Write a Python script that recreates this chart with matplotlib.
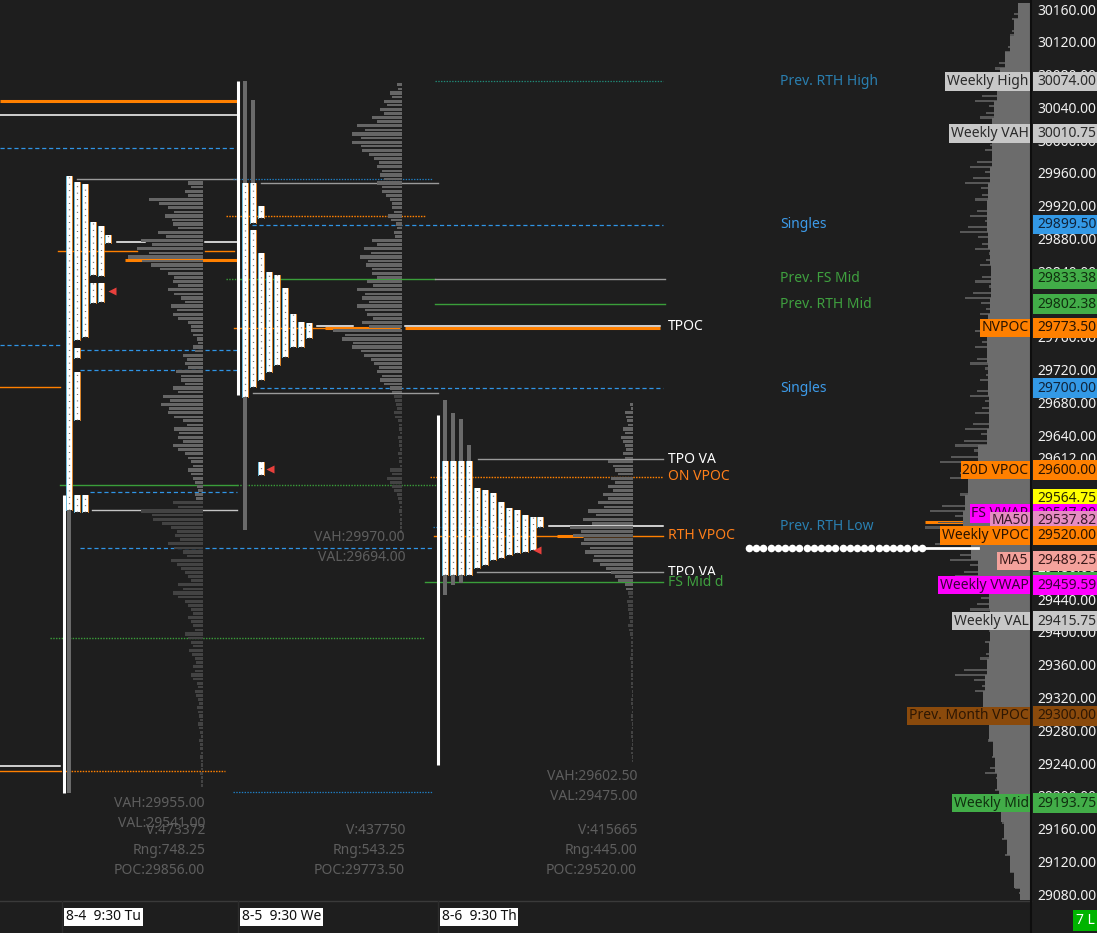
import numpy as np
import matplotlib.pyplot as plt
from matplotlib.patches import Rectangle

plt.rcParams['font.family'] = ['Noto Sans', 'DejaVu Sans']
plt.rcParams['lines.scale_dashes'] = False

BG = '#1e1e1e'

# price scale of the chart (top / bottom of the plotting area)
P_HIGH = 30173.42
P_LOW = 29075.45
PX_PER_PT = 0.8197

price_ticks = list(range(29080, 30161, 40))

# ---------------- session data ----------------
session_labels = ['8-4  9:30 Tu', '8-5  9:30 We', '8-6  9:30 Th']
sess_vah = [29955.00, 29970.00, 29602.50]
sess_val = [29541.00, 29694.00, 29475.00]
sess_vol = [473372, 437750, 415665]
sess_rng = [748.25, 543.25, 445.00]
sess_poc = [29856.00, 29773.50, 29520.00]

# session range bars (high, low)
range_hi = [29569.50, 30074.50, 29667.00]
range_lo = [29206.00, 29691.50, 29240.25]

# TPO columns: (top, bottom) segments per column
tpo_day1 = [
    [(29958.75, 29551.25)],
    [(29951.50, 29758.50), (29748.75, 29736.50), (29719.50, 29661.00), (29569.50, 29548.75)],
    [(29949.00, 29762.25), (29569.50, 29548.75)],
    [(29902.50, 29838.00), (29828.25, 29803.75)],
    [(29897.75, 29836.75), (29828.25, 29805.00)],
    [(29886.75, 29877.00)],
]
tpo_day2 = [
    [(29950.00, 29689.00)],
    [(29950.00, 29901.50), (29892.75, 29701.25)],
    [(29922.00, 29907.50), (29864.75, 29709.75), (29609.75, 29594.00)],
    [(29841.50, 29719.50)],
    [(29838.00, 29728.00)],
    [(29822.00, 29738.00)],
    [(29790.25, 29750.00)],
    [(29780.50, 29750.00)],
    [(29779.50, 29761.00)],
]
tpo_day3 = [
    [(29611.00, 29472.00)],
    [(29611.00, 29472.00)],
    [(29611.00, 29472.00)],
    [(29611.00, 29472.00)],
    [(29578.00, 29480.50)],
    [(29575.50, 29484.00)],
    [(29572.00, 29490.25)],
    [(29561.00, 29492.50)],
    [(29553.75, 29496.25)],
    [(29551.25, 29498.75)],
    [(29545.00, 29500.00)],
    [(29542.75, 29502.50)],
    [(29542.75, 29530.50)],
]
# greyed-out TPO parts (column index, top, bottom)
tpo_grey_day1 = [(0, 29551.25, 29206.00)]
tpo_grey_day2 = [(0, 30074.50, 29950.00), (1, 30051.50, 29950.00), (0, 29689.00, 29526.75)]
tpo_grey_day3 = [(0, 29685.50, 29611.00), (1, 29669.50, 29611.00), (2, 29662.25, 29611.00),
                 (3, 29630.50, 29611.00), (0, 29472.00, 29447.50), (1, 29472.00, 29459.75),
                 (2, 29472.00, 29462.00)]
single_print = [29818.40, 29601.20, 29502.40]

# session volume profiles (10 pt rows, widths in chart units)
vp1_prices = np.arange(29950, 29215, -10)
vp1_width = [15, 18, 54, 35, 38, 30, 45, 62, 66, 75, 52, 35, 30, 35, 22, 32, 30, 15, 12, 6,
             10, 20, 18, 27, 22, 30, 40, 42, 35, 20, 29, 25, 30, 18, 12, 15, 10, 6, 8,
             30, 62, 50, 32, 28, 35, 20, 32, 22, 15, 25, 30, 18, 12, 15, 10, 18, 12, 14, 8,
             10, 12, 6, 8, 5, 6, 4, 5, 3, 4, 3, 3, 2, 3, 2]
vp1_split = 29565
vp2_prices = np.arange(30070, 29525, -10)
vp2_width = [5, 12, 18, 22, 30, 45, 50, 50, 40, 28, 25, 22, 25, 20, 12, 10, 14, 6, 8, 30,
             38, 42, 36, 30, 35, 45, 40, 45, 35, 40, 69, 60, 50, 38, 28, 25, 22, 12,
             8, 6, 8, 4, 3, 4, 3, 4, 3, 12, 15, 10, 5, 3, 3, 2, 2]
vp2_split = 29695
vp3_prices = np.arange(29680, 29245, -10)
vp3_width = [3, 8, 6, 10, 12, 8, 10, 25, 18, 22, 25, 30, 35, 45, 50, 63, 60, 52, 48, 40,
             27, 18, 8, 5, 6, 5, 4, 5, 3, 2, 2, 3, 2, 2, 2, 1, 2, 1, 2, 1, 2, 1, 2, 1]
vp3_split = 29455

# composite profile at the right
comp_prices = np.arange(30160, 29075, -20)
comp_core = [12, 16, 20, 25, 30, 33, 36, 38, 38, 38, 40, 42, 43, 43, 42, 40, 39, 39, 40, 42,
             43, 43, 42, 42, 41, 41, 43, 52, 57, 62, 65, 67, 65, 59, 52, 42, 41, 40, 40, 41,
             43, 45, 47, 45, 41, 37, 35, 33, 31, 29, 26, 23, 20, 16, 10]
spike_prices = np.arange(30150, 29085, -20)
spike_width = [18, 20, 25, 35, 45, 55, 50, 45, 45, 60, 65, 55, 60, 70, 55, 50, 55, 65, 50, 55,
               55, 60, 50, 60, 55, 65, 75, 90, 80, 70, 100, 105, 95, 80, 75, 65, 60, 55, 45, 50,
               75, 55, 50, 40, 42, 38, 45, 35, 30, 28, 28, 25, 20, 15]

# price levels (price, badge colour, badge text colour, side tag)
levels = [
    (30074.00, '#c8c8c8', '#2a2a2a', 'Weekly High'),
    (30010.75, '#c8c8c8', '#2a2a2a', 'Weekly VAH'),
    (29899.50, '#3399e6', '#10243a', None),
    (29833.38, '#42ad48', '#10300f', None),
    (29802.38, '#42ad48', '#10300f', None),
    (29773.50, '#ff8000', '#2a1400', 'NVPOC'),
    (29700.00, '#3399e6', '#10243a', None),
    (29600.00, '#ff8000', '#2a1400', '20D VPOC'),
    (29564.75, '#ffff00', '#2a2a00', None),
    (29547.00, '#ff00ff', '#3a003a', 'FS VWAP'),
    (29537.82, '#e68cc2', '#3a1a2a', 'MA50'),
    (29520.00, '#ff8000', '#2a1400', 'Weekly VPOC'),
    (29489.25, '#f4a29c', '#3a1a1a', 'MA5'),
    (29463.00, '#42ad48', '#10300f', None),
    (29459.59, '#ff00ff', '#3a003a', 'Weekly VWAP'),
    (29415.75, '#c8c8c8', '#2a2a2a', 'Weekly VAL'),
    (29300.00, '#8a4a0c', '#2e1703', 'Prev. Month VPOC'),
    (29193.75, '#42ad48', '#10300f', 'Weekly Mid'),
]

# ---------------- layout ----------------
tpo_x = [[69, 77, 85, 93, 101, 108],
         [245, 253, 261, 269, 277, 285, 293, 301, 309],
         [445, 453, 461, 469, 477, 485, 493, 501, 509, 517, 525, 533, 540]]
range_x = [64, 238, 438]
tri_x = [112, 270, 537]
vp_edge = [203, 402, 633]
comp_edge = 1030

STY = {
    'or_thick': dict(color='#ff8000', lw=2.2, solid_capstyle='butt'),
    'or': dict(color='#ff8000', lw=1.0),
    'or_dot': dict(color='#ff8000', lw=1.0, dashes=(1.1, 0.9)),
    'white': dict(color='#ffffff', lw=1.1),
    'grey': dict(color='#9a9a9a', lw=1.0),
    'ltgrey': dict(color='#c4c4c4', lw=1.0),
    'bl_dash': dict(color='#2f95e6', lw=0.9, dashes=(3.0, 2.0)),
    'bl_dot': dict(color='#1f80c6', lw=0.9, dashes=(1.0, 1.0)),
    'green': dict(color='#3a9e3a', lw=1.0),
    'gr_dot': dict(color='#3a9e3a', lw=1.0, dashes=(1.0, 1.0)),
    'teal_dot': dict(color='#208a78', lw=0.9, dashes=(1.0, 1.0)),
}

segments = [
    (30050.25, 0, 237, 'or_thick'), (30033.00, 0, 237, 'white'),
    (29993.00, 0, 235, 'bl_dash'), (30074.50, 435, 663, 'teal_dot'),
    (29955.00, 77, 237, 'grey'), (29955.50, 233, 433, 'bl_dot'),
    (29950.00, 261, 438, 'grey'), (29910.00, 226, 425, 'or_dot'),
    (29899.50, 252, 663, 'bl_dash'),
    (29878.00, 117, 145, 'white'), (29878.00, 205, 237, 'white'),
    (29867.00, 58, 137, 'or'), (29867.00, 205, 234, 'or'),
    (29856.00, 125, 237, 'or_thick'),
    (29833.38, 226, 240, 'gr_dot'), (29833.38, 240, 435, 'green'), (29833.38, 435, 665, 'grey'),
    (29802.38, 435, 665, 'green'),
    (29775.50, 317, 353, 'white'), (29773.50, 234, 370, 'or'), (29773.50, 325, 400, 'or_thick'),
    (29776.00, 405, 660, 'white'), (29773.00, 405, 660, 'or_thick'),
    (29752.50, 0, 60, 'bl_dash'), (29746.40, 80, 237, 'bl_dash'), (29722.00, 80, 237, 'bl_dash'),
    (29701.30, 0, 60, 'or'), (29700.00, 260, 663, 'bl_dash'), (29694.00, 253, 438, 'grey'),
    (29613.00, 478, 663, 'grey'), (29591.50, 430, 663, 'or_dot'),
    (29582.00, 60, 237, 'green'), (29582.00, 237, 440, 'gr_dot'),
    (29573.00, 90, 237, 'bl_dash'), (29551.20, 92, 237, 'ltgrey'),
    (29530.50, 433, 540, 'bl_dot'), (29531.50, 549, 663, 'white'),
    (29520.00, 434, 663, 'or'), (29520.00, 557, 583, 'or_thick'),
    (29505.00, 80, 433, 'bl_dash'), (29475.00, 477, 663, 'grey'),
    (29463.00, 425, 663, 'green'), (29395.00, 50, 425, 'gr_dot'),
    (29239.00, 0, 60, 'white'), (29233.00, 0, 60, 'or'), (29233.00, 60, 225, 'or_dot'),
    (29207.00, 233, 433, 'bl_dot'), (29537.00, 925, 965, 'or_thick'),
]


def px(y):
    return P_HIGH - y / PX_PER_PT


fig = plt.figure(figsize=(10.97, 9.33), dpi=100, facecolor=BG)
ax = fig.add_axes([0, 33 / 933, 1, 900 / 933])
ax.set_xlim(0, 1097)
ax.set_ylim(P_LOW, P_HIGH)
ax.axis('off')

# level lines
for p, x0, x1, kind in segments:
    ax.plot([x0, x1], [p, p], zorder=2, **STY[kind])

# session volume profiles
for prices, widths, split, edge in [(vp1_prices, vp1_width, vp1_split, vp_edge[0]),
                                    (vp2_prices, vp2_width, vp2_split, vp_edge[1]),
                                    (vp3_prices, vp3_width, vp3_split, vp_edge[2])]:
    widths = np.array(widths, dtype=float)
    cols = ['#666666' if p > split else '#434343' for p in prices]
    ax.barh(prices, widths, height=4.0, left=edge - widths, color=cols, zorder=3)
    ax.barh(prices - 5, widths * 0.82, height=3.0, left=edge - widths * 0.82, color=cols, zorder=3)

# TPO profiles
for d, cols in enumerate([tpo_day1, tpo_day2, tpo_day3]):
    xs = tpo_x[d]
    for i, segs in enumerate(cols):
        x = xs[i]
        for top, bot in segs:
            ax.add_patch(Rectangle((x - 2.5, bot), 5, top - bot, facecolor='white',
                                   edgecolor='none', zorder=4))
            ax.plot([x - 2.7] * 2, [bot, top], color='#7fdcff', lw=0.6, zorder=5)
            ax.plot([x + 2.7] * 2, [bot, top], color='#ff9a30', lw=0.6, zorder=5)
            ax.plot([x, x], [bot, top], color='#505050', lw=0.9, dashes=(0.6, 4.0), zorder=5)
for d, greys in enumerate([tpo_grey_day1, tpo_grey_day2, tpo_grey_day3]):
    for i, top, bot in greys:
        x = tpo_x[d][i]
        ax.add_patch(Rectangle((x - 2, bot), 4, top - bot, facecolor='#6a6a6a',
                               edgecolor='none', zorder=4))
    ax.plot([range_x[d]] * 2, [range_lo[d], range_hi[d]], color='white', lw=2.2,
            solid_capstyle='butt', zorder=5)
    ax.plot(tri_x[d], single_print[d], marker='<', ms=6, color='#e8403c', mec='none', zorder=6)

# session stats
stat_x = [205, 405, 637]
vah_y = [804, 538, 777]
for d in range(3):
    kw = dict(color='#5e5e5e', fontsize=10, ha='right', va='center', zorder=3)
    ax.text(stat_x[d], px(vah_y[d]), f'VAH:{sess_vah[d]:.2f}', **kw)
    ax.text(stat_x[d], px(vah_y[d] + 20), f'VAL:{sess_val[d]:.2f}', **kw)
    ax.text(stat_x[d], px(831), f'V:{sess_vol[d]}', **kw)
    ax.text(stat_x[d], px(851), f'Rng:{sess_rng[d]:.2f}', **kw)
    ax.text(stat_x[d], px(871), f'POC:{sess_poc[d]:.2f}', **kw)

# labels right of the current session
lab_kw = dict(fontsize=10, va='center', ha='left', zorder=7)
ax.text(668, 29774.5, 'TPOC', color='white', **lab_kw)
ax.text(668, 29613.0, 'TPO VA', color='white', **lab_kw)
ax.text(668, 29591.5, 'ON VPOC', color='#ff7f1a', **lab_kw)
ax.text(668, 29520.0, 'RTH VPOC', color='#ff7f1a', **lab_kw)
ax.text(668, 29475.0, 'TPO VA', color='white', **lab_kw)
ax.text(668, 29463.0, 'FS Mid d', color='#3fa03f', zorder=8, fontsize=10, va='center', ha='left',
        bbox=dict(boxstyle='square,pad=0.0', fc=BG, ec='none'))

mid_labels = [(30074.00, 'Prev. RTH High', '#2a7fb0'), (29899.50, 'Singles', '#3d9be9'),
              (29833.38, 'Prev. FS Mid', '#3fa03f'), (29802.38, 'Prev. RTH Mid', '#3fa03f'),
              (29700.00, 'Singles', '#3d9be9'), (29530.50, 'Prev. RTH Low', '#2a7fb0')]
for p, t, c in mid_labels:
    ax.text(780, p, t, color=c, **lab_kw)

# naked level marker row
dot_x = np.arange(749, 926, 7.2)
ax.scatter(dot_x, np.full(len(dot_x), 29505.0), s=30, color='white', zorder=6, linewidths=0)
ax.plot([925, 978], [29505.0, 29505.0], color='white', lw=2.0, zorder=6)

# composite profile
core = np.array(comp_core, dtype=float)
spk = np.array(spike_width, dtype=float)
ax.barh(spike_prices, spk, height=2.8, left=comp_edge - spk, color='#575757', zorder=2)
ax.barh(spike_prices - 6, spk * 0.75, height=2.8, left=comp_edge - spk * 0.75,
        color='#575757', zorder=2)
ax.barh(spike_prices + 6, spk * 0.88, height=2.4, left=comp_edge - spk * 0.88,
        color='#575757', zorder=2)
ax.barh(comp_prices, core, height=20, left=comp_edge - core, color='#6c6c6c', zorder=2.1)

# price scale
ax.plot([1031, 1031], [P_LOW, P_HIGH], color='#0e0e0e', lw=1.5, zorder=5)
for p in price_ticks:
    ax.text(1037, p, f'{p:.2f}', color='#f0f0f0', fontsize=10, va='center', ha='left', zorder=5)
ax.text(1037, 29613.0, '29612.00', color='#f0f0f0', fontsize=10, va='center', ha='left', zorder=5.5,
        bbox=dict(boxstyle='square,pad=0.05', fc=BG, ec='none'))
ax.text(1037, 29591.5, '29592.00', color='#f0f0f0', fontsize=10, va='center', ha='left', zorder=5.5,
        bbox=dict(boxstyle='square,pad=0.05', fc=BG, ec='none'))

for i, (p, face, tcol, tag) in enumerate(levels):
    z = 6 + i * 0.02
    ax.add_patch(Rectangle((1033, p - 12), 64, 24, facecolor=face, edgecolor='none', zorder=z))
    ax.text(1037, p, f'{p:.2f}', color=tcol, fontsize=10, va='center', ha='left', zorder=z + 0.01)
    if tag:
        ax.text(1028.5, p, tag, color=tcol, fontsize=10, va='center', ha='right', zorder=z + 0.01,
                bbox=dict(boxstyle='square,pad=0.12', fc=face, ec='none'))

# time axis
axb = fig.add_axes([0, 0, 1, 33 / 933])
axb.set_xlim(0, 1097)
axb.set_ylim(0, 33)
axb.axis('off')
axb.plot([0, 1031], [32.5, 32.5], color='#3a3a3a', lw=1)
axb.plot([1031, 1031], [0, 33], color='#0e0e0e', lw=1.5)
sess_lab_x = [66, 242, 442]
for x, t in zip(sess_lab_x, session_labels):
    axb.plot([x - 4, x - 4], [0, 32], color='#2c2c2c', lw=1)
    axb.text(x, 16, t, color='#111111', fontsize=10, va='center', ha='left',
             bbox=dict(boxstyle='square,pad=0.12', fc='white', ec='none'))
axb.add_patch(Rectangle((1073, 2), 24, 21, facecolor='#00b400', edgecolor='none'))
axb.text(1076, 12.5, '7 L', color='white', fontsize=10, va='center', ha='left')

fig.savefig('out.png', dpi=100, facecolor=BG)
